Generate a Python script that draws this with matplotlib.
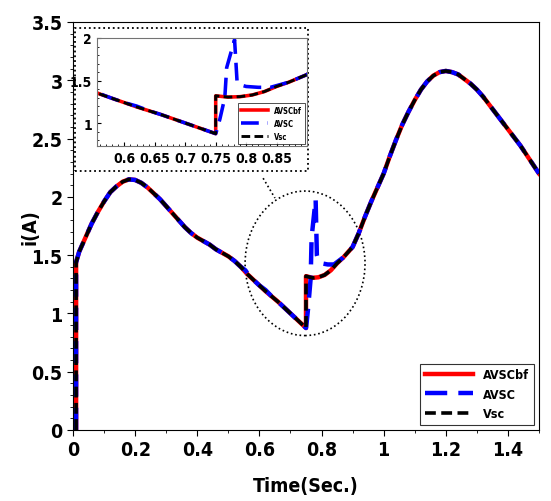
import numpy as np
import matplotlib
matplotlib.use("Agg")
import matplotlib.pyplot as plt
from matplotlib.patches import Rectangle, Ellipse
from matplotlib.ticker import MultipleLocator

plt.rcParams['font.family'] = ['DejaVu Sans']
plt.rcParams['font.stretch'] = 'condensed'
plt.rcParams['font.weight'] = 'bold'

# base current i(A) versus time (AVSCbf and Vsc follow it)
t = [0.01, 0.01, 0.02, 0.04, 0.06, 0.08, 0.10, 0.12, 0.14, 0.16, 0.18, 0.20,
     0.22, 0.24, 0.26, 0.28, 0.30, 0.32, 0.34, 0.36, 0.38, 0.40, 0.42, 0.44,
     0.46, 0.48, 0.50, 0.52, 0.54, 0.56, 0.58, 0.60, 0.62, 0.64, 0.66, 0.68,
     0.70, 0.72, 0.74, 0.75, 0.75, 0.77, 0.79, 0.81, 0.83, 0.85, 0.87, 0.89,
     0.90, 0.92, 0.94, 0.96, 0.98, 1.00, 1.02, 1.04, 1.06, 1.08, 1.10, 1.12,
     1.14, 1.16, 1.18, 1.20, 1.22, 1.24, 1.26, 1.28, 1.30, 1.32, 1.34, 1.36,
     1.38, 1.40, 1.42, 1.44, 1.46, 1.48, 1.50]
i_base = [0.0, 1.44, 1.53, 1.65, 1.77, 1.87, 1.96, 2.04, 2.09, 2.13, 2.15, 2.145,
          2.12, 2.08, 2.03, 1.98, 1.92, 1.86, 1.80, 1.74, 1.69, 1.65, 1.62, 1.59,
          1.55, 1.52, 1.49, 1.45, 1.40, 1.34, 1.29, 1.24, 1.19, 1.145, 1.10, 1.05,
          1.00, 0.95, 0.90, 0.875, 1.32, 1.305, 1.31, 1.33, 1.37, 1.43, 1.48, 1.54,
          1.57, 1.69, 1.83, 1.96, 2.08, 2.20, 2.35, 2.49, 2.62, 2.73, 2.83, 2.92,
          2.99, 3.04, 3.07, 3.08, 3.07, 3.05, 3.01, 2.97, 2.92, 2.86, 2.79, 2.72,
          2.65, 2.58, 2.51, 2.44, 2.36, 2.28, 2.20]

# AVSC: same except small bump near 0.56 and overshoot after 0.75 s
t_avsc = [0.01, 0.01, 0.02, 0.04, 0.06, 0.08, 0.10, 0.12, 0.14, 0.16, 0.18, 0.20,
          0.22, 0.24, 0.26, 0.28, 0.30, 0.32, 0.34, 0.36, 0.38, 0.40, 0.42, 0.44,
          0.46, 0.48, 0.50, 0.52, 0.54, 0.555, 0.565, 0.58, 0.60, 0.62, 0.64, 0.66, 0.68,
          0.70, 0.72, 0.74, 0.75, 0.752, 0.757, 0.765, 0.768, 0.781, 0.785, 0.79,
          0.80, 0.82, 0.84, 0.85, 0.87, 0.89,
          0.90, 0.92, 0.94, 0.96, 0.98, 1.00, 1.02, 1.04, 1.06, 1.08, 1.10, 1.12,
          1.14, 1.16, 1.18, 1.20, 1.22, 1.24, 1.26, 1.28, 1.30, 1.32, 1.34, 1.36,
          1.38, 1.40, 1.42, 1.44, 1.46, 1.48, 1.50]
i_avsc = [0.0, 1.44, 1.53, 1.65, 1.77, 1.87, 1.96, 2.04, 2.09, 2.13, 2.15, 2.145,
          2.12, 2.08, 2.03, 1.98, 1.92, 1.86, 1.80, 1.74, 1.69, 1.65, 1.62, 1.59,
          1.55, 1.52, 1.49, 1.45, 1.40, 1.37, 1.33, 1.29, 1.24, 1.20, 1.145, 1.10, 1.05,
          1.00, 0.95, 0.90, 0.875, 0.92, 1.05, 1.30, 1.65, 1.98, 1.50, 1.45,
          1.43, 1.42, 1.42, 1.44, 1.48, 1.54,
          1.57, 1.69, 1.83, 1.96, 2.08, 2.20, 2.35, 2.49, 2.62, 2.73, 2.83, 2.92,
          2.99, 3.04, 3.07, 3.08, 3.07, 3.05, 3.01, 2.97, 2.92, 2.86, 2.79, 2.72,
          2.65, 2.58, 2.51, 2.44, 2.36, 2.28, 2.20]

labels = ['AVSCbf', 'AVSC', 'Vsc']
xticks_main = [0, 0.2, 0.4, 0.6, 0.8, 1.0, 1.2, 1.4]
xlabels_main = ['0', '0.2', '0.4', '0.6', '0.8', '1', '1.2', '1.4']
yticks_main = [0, 0.5, 1, 1.5, 2, 2.5, 3, 3.5]
ylabels_main = ['0', '0.5', '1', '1.5', '2', '2.5', '3', '3.5']
xticks_in = [0.6, 0.65, 0.7, 0.75, 0.8, 0.85]
xlabels_in = ['0.6', '0.65', '0.7', '0.75', '0.8', '0.85']
yticks_in = [1, 1.5, 2]
ylabels_in = ['1', '1.5', '2']


def draw(ax, lw_scale=1.0):
    ax.plot(t, i_base, color='red', lw=3.2 * lw_scale, label=labels[0])
    ax.plot(t_avsc, i_avsc, color='blue', lw=3.2 * lw_scale, ls=(0, (5, 2.5)), label=labels[1])
    ax.plot(t, i_base, color='black', lw=2.6 * lw_scale, ls=(0, (3, 1.5)), label=labels[2])


fig = plt.figure(figsize=(5.51, 5.02), dpi=100)
ax = fig.add_axes([73 / 551, 1 - 431 / 502, 466 / 551, 408 / 502])
draw(ax)
ax.set_xlim(0, 1.5)
ax.set_ylim(0, 3.5)
ax.set_xticks(xticks_main)
ax.set_xticklabels(xlabels_main)
ax.set_yticks(yticks_main)
ax.set_yticklabels(ylabels_main)
ax.xaxis.set_minor_locator(MultipleLocator(0.1))
ax.yaxis.set_minor_locator(MultipleLocator(0.1))
ax.tick_params(which='both', direction='out', labelsize=14)
ax.tick_params(which='major', length=4)
ax.tick_params(which='minor', length=2)
ax.set_xlabel('Time(Sec.)', fontsize=14, fontweight='bold')
ax.set_ylabel('i(A)', fontsize=14, fontweight='bold')
ax.xaxis.set_label_coords(0.5, -0.112)
ax.yaxis.set_label_coords(-0.072, 0.5)
leg = ax.legend(loc='lower right', fontsize=9, fancybox=False, edgecolor='black',
                handlelength=3.8, borderaxespad=0.4)
leg.get_frame().set_linewidth(0.8)

# dotted frame around inset, ellipse and connector
ax.add_patch(Rectangle((0.006, 2.22), 0.751, 1.23, fill=False, ls=':', lw=1.3,
                       ec='black', clip_on=False))
ax.add_patch(Ellipse((0.747, 1.43), 0.386, 1.24, fill=False, ls=':', lw=1.2, ec='black'))
ax.plot([0.612, 0.65], [2.16, 1.99], ls=':', lw=1.2, color='black')

# inset zoom
axin = fig.add_axes([97 / 551, 1 - 147 / 502, 210 / 551, 108 / 502])
draw(axin, 0.8)
axin.set_xlim(0.555, 0.9)
axin.set_ylim(0.73, 2.0)
axin.set_xticks(xticks_in)
axin.set_xticklabels(xlabels_in)
axin.set_yticks(yticks_in)
axin.set_yticklabels(ylabels_in)
axin.xaxis.set_minor_locator(MultipleLocator(0.01))
axin.yaxis.set_minor_locator(MultipleLocator(0.1))
axin.tick_params(which='both', direction='in', labelsize=10)
axin.tick_params(which='major', length=3)
axin.tick_params(which='minor', length=1.5)
for s in axin.spines.values():
    s.set_color('0.45')
legin = axin.legend(loc='lower right', fontsize=5.5, fancybox=False, edgecolor='black',
                    handlelength=3.5, borderaxespad=0.3)
legin.get_frame().set_linewidth(0.6)

fig.savefig('out.png', dpi=100)
